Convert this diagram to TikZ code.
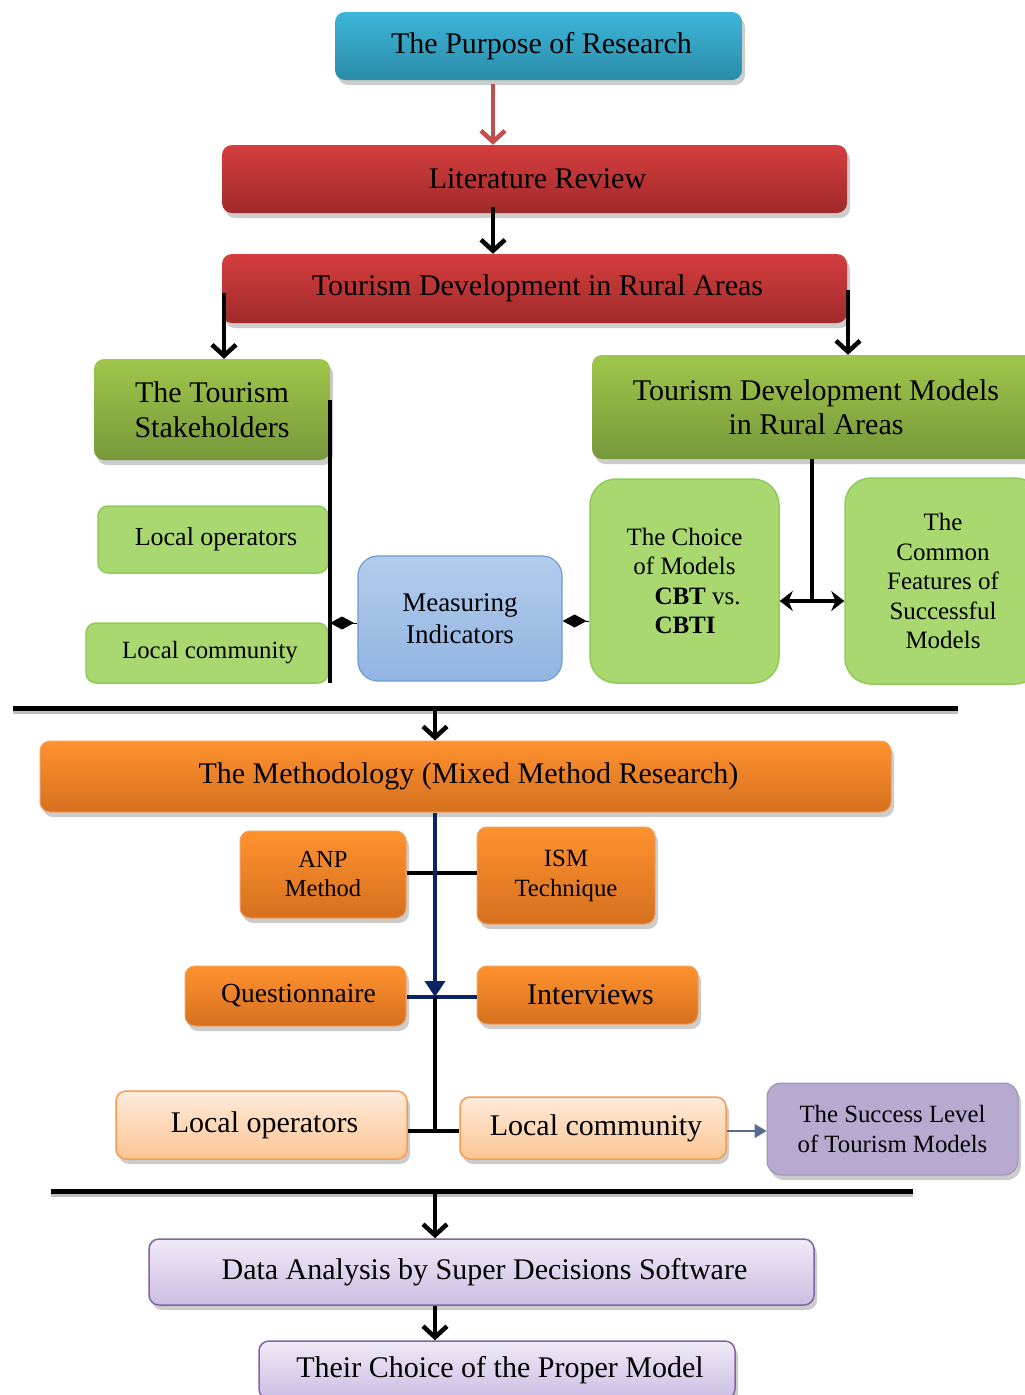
\documentclass[tikz,border=0pt]{standalone}
\usepackage{fontspec}
\setmainfont{Liberation Serif}
\usetikzlibrary{arrows.meta,shadows}
\definecolor{cyanT}{HTML}{3DB6D9}
\definecolor{cyanB}{HTML}{2A8CA8}
\definecolor{redT}{HTML}{D53E3E}
\definecolor{redB}{HTML}{A02A2B}
\definecolor{dgT}{HTML}{9FC64B}
\definecolor{dgB}{HTML}{77983A}
\definecolor{lgF}{HTML}{A8D86F}
\definecolor{lgD}{HTML}{8FCB5A}
\definecolor{blT}{HTML}{B2CCEC}
\definecolor{blB}{HTML}{92B4E2}
\definecolor{blD}{HTML}{6D9BD3}
\definecolor{orT}{HTML}{FF922F}
\definecolor{orB}{HTML}{D5701F}
\definecolor{orD}{HTML}{F4A060}
\definecolor{pcT}{HTML}{FFEBDC}
\definecolor{pcB}{HTML}{FCC592}
\definecolor{pcD}{HTML}{F79B52}
\definecolor{puF}{HTML}{B8A9D0}
\definecolor{lvT}{HTML}{F0EAF7}
\definecolor{lvB}{HTML}{CCBDE3}
\definecolor{lvD}{HTML}{8064A2}
\definecolor{navy}{HTML}{0C2462}
\definecolor{arrRed}{HTML}{C0504D}
\definecolor{slate}{HTML}{566E8C}
\begin{document}
\begin{tikzpicture}[x=1pt,y=-1pt,
  box/.style={rounded corners=10pt, inner sep=0pt, align=center, text=black},
  shad/.style={drop shadow={shadow xshift=3pt,shadow yshift=-5pt,fill=black!20,opacity=1}},
  f30/.style={font=\fontsize{30}{34.5}\selectfont},
  f27/.style={font=\fontsize{27}{32}\selectfont},
  f26/.style={font=\fontsize{26}{30}\selectfont},
  f25/.style={font=\fontsize{25}{29.5}\selectfont},
  cyanbox/.style={box,shad,top color=cyanT,bottom color=cyanB},
  redbox/.style={box,shad,top color=redT,bottom color=redB},
  dgbox/.style={box,shad,top color=dgT,bottom color=dgB},
  lgbox/.style={box,fill=lgF,draw=lgD,line width=1.5pt},
  blbox/.style={box,top color=blT,bottom color=blB,draw=blD,line width=1.2pt,rounded corners=20pt},
  orbox/.style={box,shad,top color=orT,bottom color=orB,draw=orD,line width=1pt},
  pcbox/.style={box,shad,top color=pcT,bottom color=pcB,draw=pcD,line width=1.5pt},
  pubox/.style={box,shad,fill=puF,draw=puF!85!black,line width=1pt,rounded corners=14pt},
  lvbox/.style={box,shad,top color=lvT,bottom color=lvB,draw=lvD,line width=1.5pt},
  thickline/.style={line width=3.5pt,black},
  sepline/.style={line width=5pt,black},
  blkarrow/.style={line width=4pt,black,-{Straight Barb[length=11pt,width=24pt,line width=4.5pt]}},
  redarrow/.style={line width=4pt,arrRed,-{Straight Barb[length=11pt,width=24pt,line width=4.5pt]}},
  dblarrow/.style={line width=3.5pt,black,{Stealth[length=13pt,width=20pt]}-{Stealth[length=13pt,width=20pt]}},
  diamarrow/.style={line width=1pt,black,-{Diamond[length=24pt,width=13pt]}},
  navyarrow/.style={line width=3.5pt,navy,-{Triangle[length=16pt,width=20pt]}},
  slatearrow/.style={line width=2pt,slate,-{Triangle[length=12pt,width=14pt]}}
]
\useasboundingbox (0,0) rectangle (1025,1395);
\fill[white] (0,0) rectangle (1025,1395);

% coordinates
\coordinate (a1) at (493,0);
\coordinate (cL) at (224,293);
\coordinate (cR) at (848,290);
\coordinate (sv1) at (330,400);
\coordinate (sv2) at (330,683);
\coordinate (dl) at (330,623);
\coordinate (dr) at (590,621);
\coordinate (jm) at (812,601);
\coordinate (s1a) at (13,708);
\coordinate (s1b) at (958,708);
\coordinate (cx) at (435,708);
\coordinate (j1) at (435,873);
\coordinate (j2) at (435,997);
\coordinate (j3) at (435,1131);
\coordinate (s2a) at (51,1191);
\coordinate (s2b) at (913,1191);
\coordinate (cx2) at (435,1191);

% nodes
\node[cyanbox,f30,minimum width=407pt,minimum height=68pt] (purpose) at (538.5,46) {\hspace*{6pt}The Purpose of Research};
\node[redbox,f30,minimum width=625pt,minimum height=68pt] (lit) at (534.5,179) {\hspace*{6pt}Literature Review};
\node[redbox,f30,minimum width=625pt,minimum height=69pt] (tdra) at (534.5,288.5) {\hspace*{6pt}Tourism Development in Rural Areas};
\node[dgbox,f30,minimum width=236pt,minimum height=101pt] (stake) at (212,409.5) {The Tourism\\Stakeholders};
\node[dgbox,f30,minimum width=448pt,minimum height=104pt] (tdm) at (816,407) {Tourism Development Models\\in Rural Areas};
\node[lgbox,f26,minimum width=230pt,minimum height=67pt] (lop) at (213,539.5) {\hspace*{6pt}Local operators};
\node[lgbox,font=\fontsize{24.8}{29}\selectfont,minimum width=242pt,minimum height=60pt] (lcom) at (207,653) {\hspace*{6pt}Local community};
\node[blbox,f27,minimum width=204pt,minimum height=125pt] (meas) at (460,618.5) {Measuring\\Indicators};
\node[lgbox,f25,rounded corners=26pt,minimum width=189pt,minimum height=204pt] (choice) at (684.5,581)
  {The Choice\\of Models\\\makebox[0pt][l]{\hspace{-30pt}\textbf{CBT} vs.}\\\makebox[0pt][l]{\hspace{-30pt}\textbf{CBTI}}};
\node[lgbox,f25,rounded corners=26pt,minimum width=196pt,minimum height=206pt] (common) at (943,581)
  {The\\Common\\Features of\\Successful\\Models};
\node[orbox,f30,minimum width=851pt,minimum height=71pt] (meth) at (465.5,776.5) {\hspace*{6pt}The Methodology (Mixed Method Research)};
\node[orbox,font=\fontsize{24.5}{29}\selectfont,minimum width=166pt,minimum height=87pt] (anp) at (323,874.5) {ANP\\Method};
\node[orbox,font=\fontsize{24.8}{30}\selectfont,minimum width=178pt,minimum height=97pt] (ism) at (566,875.5) {ISM\\Technique};
\node[orbox,font=\fontsize{27.6}{32}\selectfont,minimum width=221pt,minimum height=60pt] (quest) at (295.5,996) {\hspace*{6pt}Questionnaire};
\node[orbox,f30,minimum width=221pt,minimum height=58pt] (inter) at (587.5,995) {\hspace*{6pt}Interviews};
\node[pcbox,f30,minimum width=291pt,minimum height=68pt] (lop2) at (261.5,1125) {\hspace*{6pt}Local operators};
\node[pcbox,f30,minimum width=266pt,minimum height=62pt] (lcom2) at (593,1128) {\hspace*{6pt}Local community};
\node[pubox,font=\fontsize{24.8}{30}\selectfont,minimum width=251pt,minimum height=92pt] (succ) at (892.5,1129) {The Success Level\\of Tourism Models};
\node[lvbox,f30,minimum width=665pt,minimum height=66pt] (data) at (481.5,1272) {\hspace*{6pt}Data Analysis by Super Decisions Software};
\node[lvbox,f30,minimum width=476pt,minimum height=58pt] (their) at (497,1370) {\hspace*{6pt}Their Choice of the Proper Model};

% connectors
\draw[redarrow] (purpose.south -| a1) ++(0,4) -- (lit.north -| a1);
\draw[blkarrow] (lit.south -| a1) ++(0,-6) -- (tdra.north -| a1);
\draw[blkarrow] (cL) -- (stake.north -| cL);
\draw[blkarrow] (cR) -- (tdm.north -| cR);
\draw[thickline] (sv1) -- (sv2);
\draw[diamarrow] (meas.west |- dl) -- (dl);
\draw[diamarrow] (choice.west |- dr) -- (meas.east |- dr);
\draw[thickline] (tdm.south -| jm) -- (jm);
\draw[dblarrow] (choice.east |- jm) -- (common.west |- jm);

\draw[line width=5pt,black!25] ([yshift=-3pt]s1a) -- ([yshift=-3pt]s1b);
\draw[sepline] (s1a) -- (s1b);
\draw[blkarrow] (cx) -- (meth.north -| cx);

\draw[thickline] (anp.east |- j1) -- (ism.west |- j1);
\draw[line width=3.5pt,navy] (quest.east |- j2) -- (inter.west |- j2);
\draw[navyarrow] (meth.south -| cx) -- (j2);
\draw[thickline] (j2) -- (j3);
\draw[thickline] (lop2.east |- j3) -- (lcom2.west |- j3);
\draw[slatearrow] (lcom2.east |- j3) -- (succ.west |- j3);

\draw[line width=5pt,black!25] ([yshift=-3pt]s2a) -- ([yshift=-3pt]s2b);
\draw[sepline] (s2a) -- (s2b);
\draw[blkarrow] (cx2) -- (data.north -| cx2);
\draw[blkarrow] (data.south -| cx2) -- (their.north -| cx2);
\end{tikzpicture}
\end{document}
